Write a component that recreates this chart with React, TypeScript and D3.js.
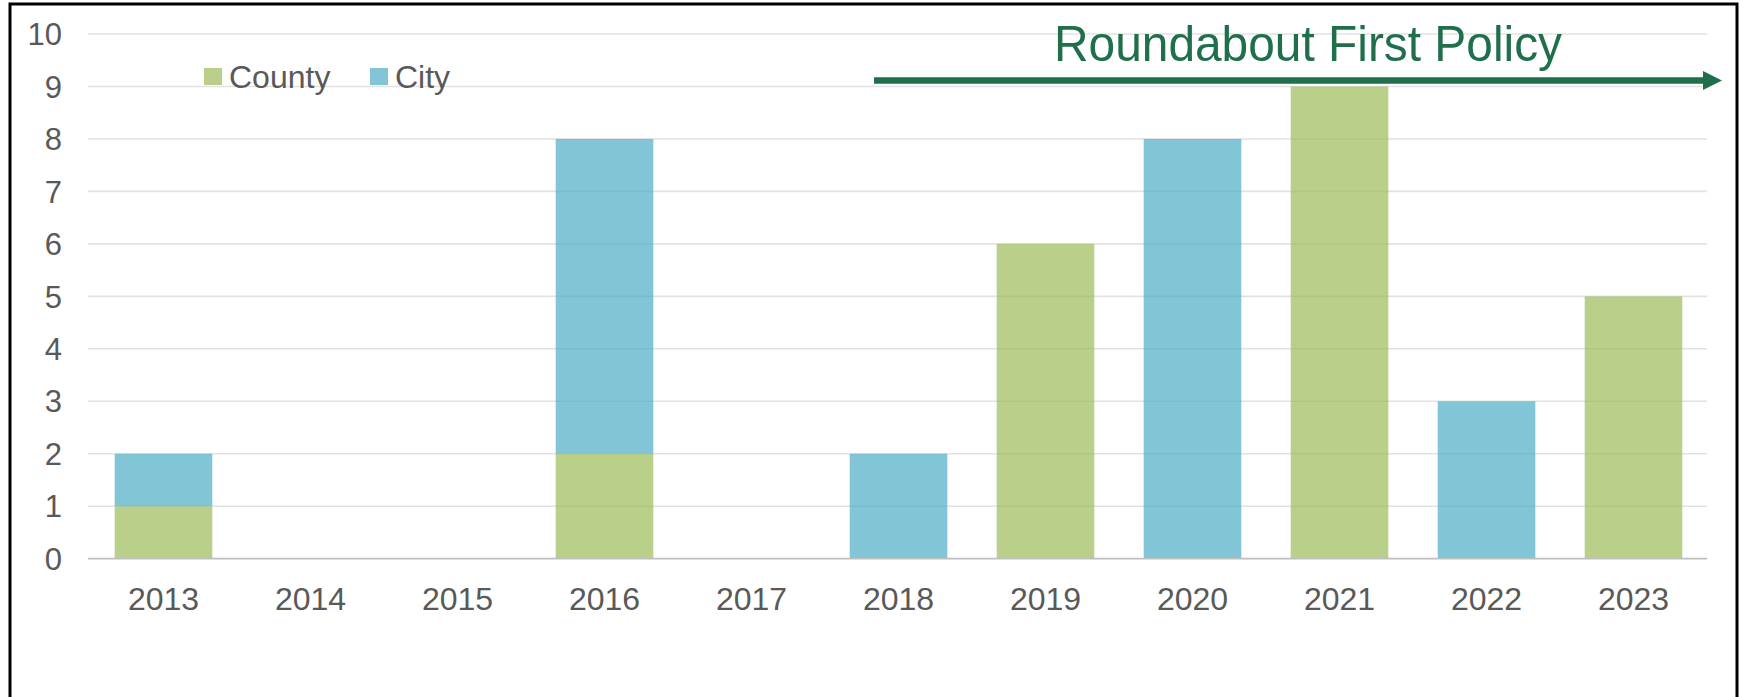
import React from "react";
import * as d3 from "d3";

const years = ["2013", "2014", "2015", "2016", "2017", "2018", "2019", "2020", "2021", "2022", "2023"];
const county = [1, 0, 0, 2, 0, 0, 6, 0, 9, 0, 5];
const city = [1, 0, 0, 6, 0, 2, 0, 8, 0, 3, 0];
const yTicks = [0, 1, 2, 3, 4, 5, 6, 7, 8, 9, 10];
const seriesNames = ["County", "City"];
const seriesColors = ["#9bbb59", "#4bacc6"];
const annotation = "Roundabout First Policy";

const W = 1745;
const H = 697;
const FONT = "'Liberation Sans', Arial, Helvetica, sans-serif";
const TEXT = "#595959";
const GREEN = "#1e6f4a";

export default function App() {
  const x = d3.scaleBand<string>().domain(years).range([90, 1707]).paddingInner(0.336).paddingOuter(0.168);
  const y = d3.scaleLinear().domain([0, 10]).range([558.7, 34]);

  const rows = years.map((yr, i) => ({ year: yr, County: county[i], City: city[i] }));
  const stacked = d3.stack<any>().keys(seriesNames)(rows);

  const legendX = [204, 370];

  return (
    <svg
      width={W}
      height={H}
      style={{ position: "absolute", left: 0, top: 0, background: "#fff" }}
      fontFamily={FONT}
    >
      <rect x={0} y={0} width={W} height={H} fill="#fff" />
      {/* frame */}
      <rect x={10} y={4} width={1727} height={740} fill="none" stroke="#000" strokeWidth={3} />

      {/* gridlines */}
      {yTicks.map((t) =>
        t === 0 ? null : (
          <line key={"g" + t} x1={88} x2={1707} y1={y(t)} y2={y(t)} stroke="#e2e2e2" strokeWidth={1.6} />
        )
      )}

      {/* bars */}
      {stacked.map((s, si) => (
        <g key={s.key}>
          {s.map((d, i) =>
            d[1] - d[0] > 0 ? (
              <rect
                key={i}
                x={x(years[i])!}
                width={x.bandwidth()}
                y={y(d[1])}
                height={y(d[0]) - y(d[1])}
                fill={seriesColors[si]}
                fillOpacity={0.7}
              />
            ) : null
          )}
        </g>
      ))}

      {/* baseline */}
      <line x1={88} x2={1707} y1={y(0)} y2={y(0)} stroke="#bfbfbf" strokeWidth={1.8} />

      {/* y tick labels */}
      {yTicks.map((t) => (
        <text
          key={"yl" + t}
          x={62}
          y={y(t)}
          dy="0.36em"
          textAnchor="end"
          fontSize={31}
          fill={TEXT}
        >
          {t}
        </text>
      ))}

      {/* x tick labels */}
      {years.map((yr) => (
        <text
          key={"xl" + yr}
          x={x(yr)! + x.bandwidth() / 2}
          y={610}
          textAnchor="middle"
          fontSize={32}
          fill={TEXT}
        >
          {yr}
        </text>
      ))}

      {/* legend */}
      {seriesNames.map((n, i) => (
        <g key={"lg" + n}>
          <rect x={legendX[i]} y={68} width={18} height={17} fill={seriesColors[i]} fillOpacity={0.7} />
          <text x={legendX[i] + 25} y={87.5} fontSize={32} fill={TEXT}>
            {n}
          </text>
        </g>
      ))}

      {/* annotation */}
      <text x={1054} y={61} fontSize={50} fill={GREEN} textLength={508} lengthAdjust="spacingAndGlyphs">
        {annotation}
      </text>
      <line x1={874} x2={1706} y1={80.5} y2={80.5} stroke={GREEN} strokeWidth={6.5} />
      <path d="M1703,71 L1722,80.5 L1703,90 Z" fill={GREEN} />
    </svg>
  );
}
